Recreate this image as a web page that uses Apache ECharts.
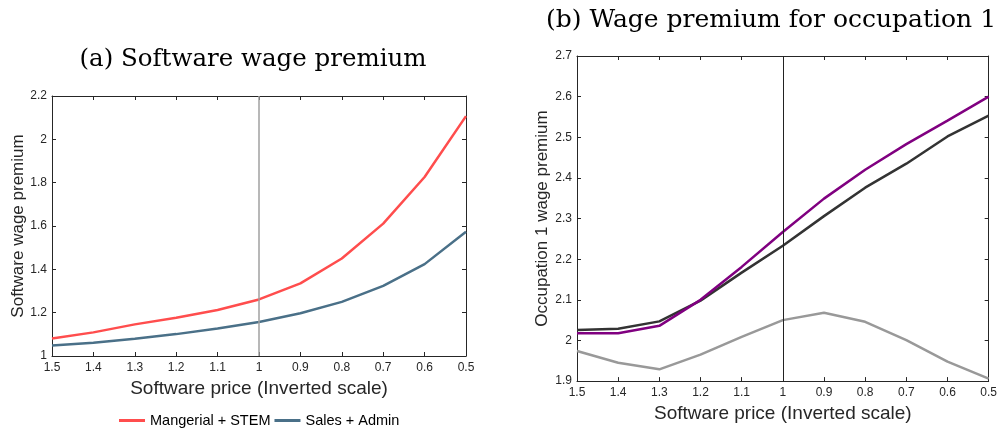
<!DOCTYPE html>
<html>
<head>
<meta charset="utf-8">
<script src="https://cdn.jsdelivr.net/npm/echarts@6/dist/echarts.min.js"></script>
<style>html,body{margin:0;padding:0;background:#fff}#c{width:1000px;height:428px}</style>
</head>
<body>
<div id="c"></div>
<script>
// Software price (inverted scale)
const prices = [1.5, 1.4, 1.3, 1.2, 1.1, 1.0, 0.9, 0.8, 0.7, 0.6, 0.5];
// Panel (a): software wage premium
const managerialStem = [1.081, 1.109, 1.146, 1.177, 1.212, 1.261, 1.335, 1.450, 1.611, 1.826, 2.107];
const salesAdmin = [1.049, 1.061, 1.080, 1.101, 1.127, 1.157, 1.197, 1.250, 1.324, 1.424, 1.573];
// Panel (b): occupation 1 wage premium
const occPurple = [2.018, 2.018, 2.036, 2.100, 2.181, 2.267, 2.349, 2.420, 2.483, 2.541, 2.600];
const occBlack = [2.026, 2.029, 2.047, 2.098, 2.167, 2.233, 2.306, 2.376, 2.435, 2.502, 2.553];
const occGray = [1.974, 1.945, 1.929, 1.965, 2.009, 2.050, 2.068, 2.046, 2.001, 1.948, 1.906];
const refPrice = 1;

const pairs = (xs, ys) => xs.map((x, i) => [x, ys[i]]);
const fmt = v => String(+(+v).toFixed(1));
const sans = 'Liberation Sans';
const axisCol = '#262626';

function xAx(grid, pos, show) {
  return {
    type: 'value', gridIndex: grid, position: pos, inverse: true,
    min: 0.5, max: 1.5, interval: 0.1,
    axisLine: {show: true, onZero: false, lineStyle: {color: axisCol, width: 1}},
    axisTick: {show: true, inside: true, length: 4, lineStyle: {color: axisCol}},
    axisLabel: {show: show, color: axisCol, fontFamily: sans, fontSize: 12, margin: 6, formatter: fmt},
    splitLine: {show: false},
    name: show ? 'Software price (Inverted scale)' : '',
    nameLocation: 'middle', nameGap: grid === 0 ? 21 : 18,
    nameTextStyle: {color: axisCol, fontFamily: sans, fontSize: 19}
  };
}
function yAx(grid, pos, show, min, max, interval, name, gap) {
  return {
    type: 'value', gridIndex: grid, position: pos,
    min: min, max: max, interval: interval,
    axisLine: {show: true, onZero: false, lineStyle: {color: axisCol, width: 1}},
    axisTick: {show: true, inside: true, length: 4, lineStyle: {color: axisCol}},
    axisLabel: {show: show, color: axisCol, fontFamily: sans, fontSize: 12, margin: 5, formatter: fmt},
    splitLine: {show: false},
    name: show ? name : '', nameLocation: 'middle', nameGap: gap,
    nameTextStyle: {color: axisCol, fontFamily: sans, fontSize: 17}
  };
}

const chart = echarts.init(document.getElementById('c'), null, {renderer: 'canvas'});
chart.setOption({
  animation: false,
  backgroundColor: '#fff',
  title: [
    {text: '(a) Software wage premium', left: 248, textAlign: 'center', top: 42,
     textStyle: {fontFamily: 'DejaVu Serif', fontWeight: 'normal', fontSize: 24.5, color: '#000'}},
    {text: '(b) Wage premium for occupation 1', left: 766, textAlign: 'center', top: 3,
     textStyle: {fontFamily: 'DejaVu Serif', fontWeight: 'normal', fontSize: 25, color: '#000'}}
  ],
  grid: [
    {left: 52, top: 96, width: 414, height: 260},
    {left: 577, top: 56, width: 413, height: 326}
  ],
  xAxis: [xAx(0, 'bottom', true), xAx(0, 'top', false), xAx(1, 'bottom', true), xAx(1, 'top', false)],
  yAxis: [
    yAx(0, 'left', true, 1, 2.2, 0.2, 'Software wage premium', 24),
    yAx(0, 'right', false, 1, 2.2, 0.2, '', 0),
    yAx(1, 'left', true, 1.9, 2.7, 0.1, 'Occupation 1 wage premium', 26),
    yAx(1, 'right', false, 1.9, 2.7, 0.1, '', 0)
  ],
  legend: {
    data: ['Mangerial + STEM', 'Sales + Admin'],
    left: 114, top: 408, icon: 'rect', itemWidth: 26, itemHeight: 3, itemGap: 4,
    textStyle: {fontFamily: sans, fontSize: 14.5, color: '#000'}
  },
  series: [
    {name: 'Mangerial + STEM', type: 'line', xAxisIndex: 0, yAxisIndex: 0, data: pairs(prices, managerialStem),
     showSymbol: false, symbol: 'none', lineStyle: {color: '#ff4d4d', width: 2.5}, itemStyle: {color: '#ff4d4d'},
     markLine: {silent: true, symbol: 'none', label: {show: false},
       lineStyle: {color: '#a0a0a0', width: 1.5, type: 'solid'}, data: [{xAxis: refPrice}]}},
    {name: 'Sales + Admin', type: 'line', xAxisIndex: 0, yAxisIndex: 0, data: pairs(prices, salesAdmin),
     showSymbol: false, symbol: 'none', lineStyle: {color: '#4a7088', width: 2.5}, itemStyle: {color: '#4a7088'}},
    {name: 'occ-gray', type: 'line', xAxisIndex: 2, yAxisIndex: 2, data: pairs(prices, occGray),
     showSymbol: false, symbol: 'none', lineStyle: {color: '#999999', width: 2.5},
     markLine: {silent: true, symbol: 'none', label: {show: false},
       lineStyle: {color: '#222', width: 1, type: 'solid'}, data: [{xAxis: refPrice}]}},
    {name: 'occ-black', type: 'line', xAxisIndex: 2, yAxisIndex: 2, data: pairs(prices, occBlack),
     showSymbol: false, symbol: 'none', lineStyle: {color: '#333333', width: 2.5}},
    {name: 'occ-purple', type: 'line', xAxisIndex: 2, yAxisIndex: 2, data: pairs(prices, occPurple),
     showSymbol: false, symbol: 'none', lineStyle: {color: '#800080', width: 2.5}}
  ]
});
</script>
</body>
</html>
